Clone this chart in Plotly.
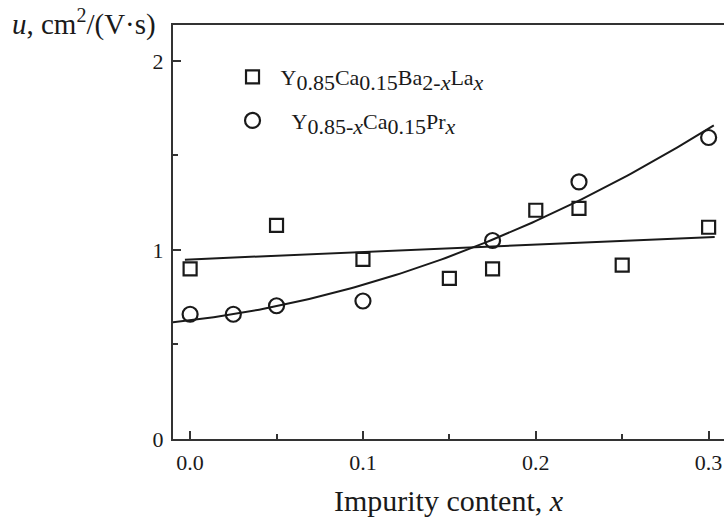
import numpy as np
import plotly.graph_objects as go

# --- data ---
x_la = [0.0, 0.05, 0.1, 0.15, 0.175, 0.2, 0.225, 0.25, 0.3]
u_la = [0.90, 1.13, 0.95, 0.85, 0.90, 1.21, 1.22, 0.92, 1.12]

x_pr = [0.0, 0.025, 0.05, 0.1, 0.175, 0.225, 0.3]
u_pr = [0.66, 0.66, 0.705, 0.73, 1.05, 1.36, 1.595]

# fit curves (coefficients a + b*x + c*x^2) and their x spans
fit_la = [0.950, 0.392, 0.0]
span_la = [-0.003, 0.3035]
fit_pr = [0.6275, 1.12, 7.54]
span_pr = [-0.01, 0.303]

x_ticks = [0.0, 0.1, 0.2, 0.3]
x_tick_text = ["0.0", "0.1", "0.2", "0.3"]
y_ticks = [0, 1, 2]
y_tick_text = ["0", "1", "2"]

FONT = "Liberation Serif"
INK = "#1a1a1a"


def sub(t, px=22):
    return "<sub><span style='font-size:%dpx'>%s</span></sub>" % (px, t)


name_la = "Y" + sub("0.85") + "Ca" + sub("0.15") + "Ba" + sub("2-<i>x</i>") + "La" + sub("<i>x</i>")
name_pr = "\u00a0\u00a0Y" + sub("0.85-<i>x</i>") + "Ca" + sub("0.15") + "Pr" + sub("<i>x</i>")


def curve(coef, span, n=120):
    xs = np.linspace(span[0], span[1], n)
    return xs, coef[0] + coef[1] * xs + coef[2] * xs ** 2


fig = go.Figure()

xl, yl = curve(fit_la, span_la)
fig.add_trace(go.Scatter(x=xl, y=yl, mode="lines", line=dict(color=INK, width=2),
                         showlegend=False, hoverinfo="skip"))
xp, yp = curve(fit_pr, span_pr)
fig.add_trace(go.Scatter(x=xp, y=yp, mode="lines", line=dict(color=INK, width=2),
                         showlegend=False, hoverinfo="skip"))

fig.add_trace(go.Scatter(x=x_la, y=u_la, mode="markers", name=name_la, legendgroup="a",
                         marker=dict(symbol="square-open", size=13, color=INK,
                                     line=dict(width=2.2, color=INK))))
fig.add_trace(go.Scatter(x=x_pr, y=u_pr, mode="markers", name=name_pr, legendgroup="b",
                         marker=dict(symbol="circle-open", size=15, color=INK,
                                     line=dict(width=2.2, color=INK))))

axis_common = dict(
    showline=True, linecolor="#333333", linewidth=2,
    ticks="inside", tickcolor="#333333", tickwidth=1.5, ticklen=8,
    showgrid=False, zeroline=False,
    tickfont=dict(family=FONT, size=22, color=INK),
)

fig.update_xaxes(
    range=[-0.0099, 0.3089], tickvals=x_ticks, ticktext=x_tick_text,
    mirror=True, ticklabelstandoff=3,
    minor=dict(ticks="inside", ticklen=5, tickwidth=1.5, tickcolor="#333333", dtick=0.05, tick0=0),
    title=dict(text="Impurity content, <i>x</i>", font=dict(family=FONT, size=30, color=INK),
               standoff=16),
    **axis_common,
)
fig.update_yaxes(
    range=[0, 2.19], tickvals=y_ticks, ticktext=y_tick_text,
    ticklabelstandoff=3,
    minor=dict(ticks="inside", ticklen=5, tickwidth=1.5, tickcolor="#333333", dtick=0.5, tick0=0),
    **axis_common,
)

fig.add_annotation(
    text="<i>u</i>, cm<sup><span style='font-size:20px'>2</span></sup>/(V·s)",
    xref="paper", yref="paper",
    x=0, y=1, xanchor="right", yanchor="middle", xshift=-15, yshift=3,
    showarrow=False, font=dict(family=FONT, size=29, color=INK),
)

fig.update_layout(
    width=724, height=520,
    margin=dict(l=173, r=0, t=25, b=81),
    paper_bgcolor="white", plot_bgcolor="white",
    showlegend=True,
    legend=dict(x=0.0935, y=0.925, xanchor="left", yanchor="top", itemwidth=46,
                font=dict(family=FONT, size=22, color=INK),
                bgcolor="rgba(0,0,0,0)", tracegroupgap=12),
)

fig.write_html("out.html")
